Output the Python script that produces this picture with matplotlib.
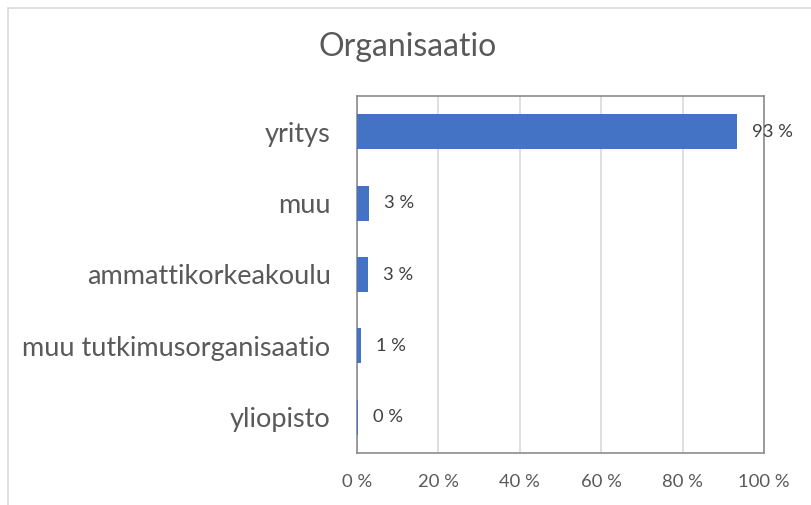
import matplotlib
matplotlib.use("Agg")
import matplotlib.pyplot as plt
from matplotlib.patches import Rectangle

categories = ["yritys", "muu", "ammattikorkeakoulu", "muu tutkimusorganisaatio", "yliopisto"]
values = [93.3, 2.9, 2.7, 0.9, 0.3]
labels = ["93 %", "3 %", "3 %", "1 %", "0 %"]
xticks = [0, 20, 40, 60, 80, 100]
xticklabels = ["0 %", "20 %", "40 %", "60 %", "80 %", "100 %"]
title = "Organisaatio"

plt.rcParams['font.family'] = ['Lato', 'DejaVu Sans']
W, H = 811, 505
fig = plt.figure(figsize=(W/100, H/100), dpi=100)
fig.patch.set_facecolor("white")

# outer chart border (extends past right/bottom edges)
fig.patches.append(Rectangle((8/W, -0.1), 1.2, 1 - 7.5/H + 0.1, transform=fig.transFigure,
                             fill=False, edgecolor="#d9d9d9", linewidth=1.2))

ax = fig.add_axes([357/W, 52/H, (764-357)/W, (453-96)/H])
y = list(range(len(categories)))
ax.barh(y, values, height=0.49, color="#4472c4", zorder=3)
ax.set_ylim(len(categories) - 0.5, -0.5)
ax.set_xlim(0, 100)
ax.set_yticks(y)
ax.set_yticklabels(categories, fontsize=19.5, color="#595959")
ax.set_xticks(xticks)
ax.set_xticklabels(xticklabels, fontsize=13.3, color="#595959")
ax.tick_params(axis="both", length=0)
ax.tick_params(axis="y", pad=19)
ax.tick_params(axis="x", pad=15)
ax.grid(axis="x", color="#d9d9d9", linewidth=1.2, zorder=0)
for s in ax.spines.values():
    s.set_color("#8c8c8c")
    s.set_linewidth(1.2)
for yi, v, lab in zip(y, values, labels):
    ax.annotate(lab, (v, yi), xytext=(11, 0), textcoords="offset points",
                va="center", ha="left", fontsize=13.2, color="#404040", zorder=5,
                annotation_clip=False)

fig.text(408/W, 1 - 47/H, title, ha="center", va="center", fontsize=23, color="#595959")

fig.savefig("out.png", dpi=100)
